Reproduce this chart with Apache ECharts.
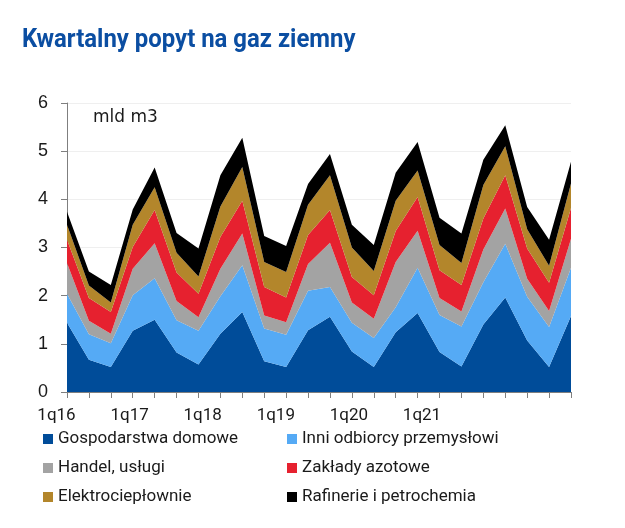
<!DOCTYPE html>
<html>
<head>
<meta charset="utf-8">
<script src="https://cdn.jsdelivr.net/npm/echarts@6/dist/echarts.min.js"></script>
<style>html,body{margin:0;padding:0;background:#fff}#c{width:625px;height:528px}</style>
</head>
<body>
<div id="c"></div>
<script>
var quarters = ['1q16','2q16','3q16','4q16','1q17','2q17','3q17','4q17','1q18','2q18','3q18','4q18',
                '1q19','2q19','3q19','4q19','1q20','2q20','3q20','4q20','1q21','2q21','3q21','4q21'];
var tickLabels = ['1q16','1q17','1q18','1q19','1q20','1q21'];
var seriesNames = ['Gospodarstwa domowe','Inni odbiorcy przemysłowi','Handel, usługi','Zakłady azotowe','Elektrociepłownie','Rafinerie i petrochemia'];
var gospodarstwa = [1.44,0.67,0.52,1.27,1.50,0.82,0.57,1.21,1.66,0.64,0.52,1.28,1.56,0.84,0.52,1.24,1.64,0.83,0.53,1.40,1.96,1.07,0.52,1.58];
var inniOdbiorcy = [0.60,0.53,0.49,0.74,0.86,0.67,0.70,0.78,0.97,0.68,0.67,0.82,0.62,0.60,0.60,0.52,0.94,0.77,0.83,0.88,1.12,0.91,0.83,1.00];
var handel       = [0.64,0.28,0.20,0.55,0.73,0.40,0.28,0.57,0.66,0.27,0.26,0.56,0.92,0.42,0.40,0.94,0.77,0.35,0.31,0.68,0.73,0.37,0.33,0.60];
var azotowe      = [0.48,0.47,0.45,0.45,0.69,0.59,0.49,0.66,0.68,0.59,0.51,0.60,0.68,0.53,0.49,0.64,0.70,0.58,0.55,0.64,0.69,0.63,0.59,0.64];
var elektro      = [0.31,0.26,0.20,0.46,0.47,0.41,0.36,0.63,0.70,0.52,0.53,0.63,0.72,0.61,0.50,0.63,0.55,0.52,0.46,0.70,0.60,0.40,0.35,0.51];
var rafinerie    = [0.27,0.29,0.36,0.32,0.41,0.41,0.58,0.65,0.61,0.54,0.54,0.43,0.44,0.47,0.54,0.58,0.59,0.57,0.61,0.52,0.44,0.46,0.54,0.45];
var colors = ['#004c99','#55aaf5','#a3a3a3','#e6212f','#b3862b','#000000'];
var values = [gospodarstwa, inniOdbiorcy, handel, azotowe, elektro, rafinerie];

var LFONT = 'Roboto';
var FONT = 'Liberation Sans';
var chart = echarts.init(document.getElementById('c'), null, {renderer:'canvas'});
var series = values.map(function(v,i){
  return {
    name: seriesNames[i], type:'line', stack:'total', data:v, xAxisIndex:0, yAxisIndex:0,
    symbol:'none', lineStyle:{width:0}, areaStyle:{color:colors[i], opacity:1},
    itemStyle:{color:colors[i]}, emphasis:{disabled:true}, z:2
  };
});
chart.setOption({
  animation:false,
  backgroundColor:'#fff',
  color: colors,
  graphic:[
    {type:'text', left:22, top:27, scaleX:0.92, style:{text:'Kwartalny popyt na gaz ziemny', fontFamily:'Roboto', fontWeight:'bold', fontSize:26, fill:'#0b4ea2'}},
    {type:'text', left:93, top:109, style:{text:'mld m3', fontFamily:'DejaVu Sans', fontSize:17, fill:'#1a1a1a'}}
  ],
  legend:[
    {orient:'vertical', left:43, top:429, padding:0, itemWidth:10, itemHeight:10, itemGap:9, icon:'rect',
     data:[seriesNames[0],seriesNames[2],seriesNames[4]],
     textStyle:{fontFamily:LFONT, fontSize:17, color:'#1a1a1a', lineHeight:20}},
    {orient:'vertical', left:287, top:429, padding:0, itemWidth:10, itemHeight:10, itemGap:9, icon:'rect',
     data:[seriesNames[1],seriesNames[3],seriesNames[5]],
     textStyle:{fontFamily:LFONT, fontSize:17, color:'#1a1a1a', lineHeight:20}}
  ],
  grid:[
    {left:67, right:54, top:103, bottom:136, containLabel:false},
    {left:56.5, right:203, top:103, bottom:136, containLabel:false}
  ],
  xAxis:[
    {type:'category', gridIndex:0, data:quarters, boundaryGap:false,
     axisLine:{lineStyle:{color:'#7f7f7f', width:1}},
     axisTick:{show:true, interval:0, length:6, lineStyle:{color:'#7f7f7f'}},
     axisLabel:{show:false}, splitLine:{show:false}},
    {type:'category', gridIndex:1, data:tickLabels, boundaryGap:false,
     axisLine:{show:false}, axisTick:{show:false}, splitLine:{show:false},
     axisLabel:{show:true, interval:0, margin:15, fontFamily:LFONT, fontSize:17, color:'#1a1a1a'}}
  ],
  yAxis:[
    {type:'value', gridIndex:0, min:0, max:6, interval:1,
     axisLine:{show:true, lineStyle:{color:'#7f7f7f'}},
     axisTick:{show:true, length:6, lineStyle:{color:'#7f7f7f'}},
     axisLabel:{margin:19, fontFamily:FONT, fontSize:18, color:'#1a1a1a'},
     splitLine:{show:true, lineStyle:{color:'#efefef', width:1}}},
    {type:'value', gridIndex:1, min:0, max:6, show:false}
  ],
  series: series
});
</script>
</body>
</html>
